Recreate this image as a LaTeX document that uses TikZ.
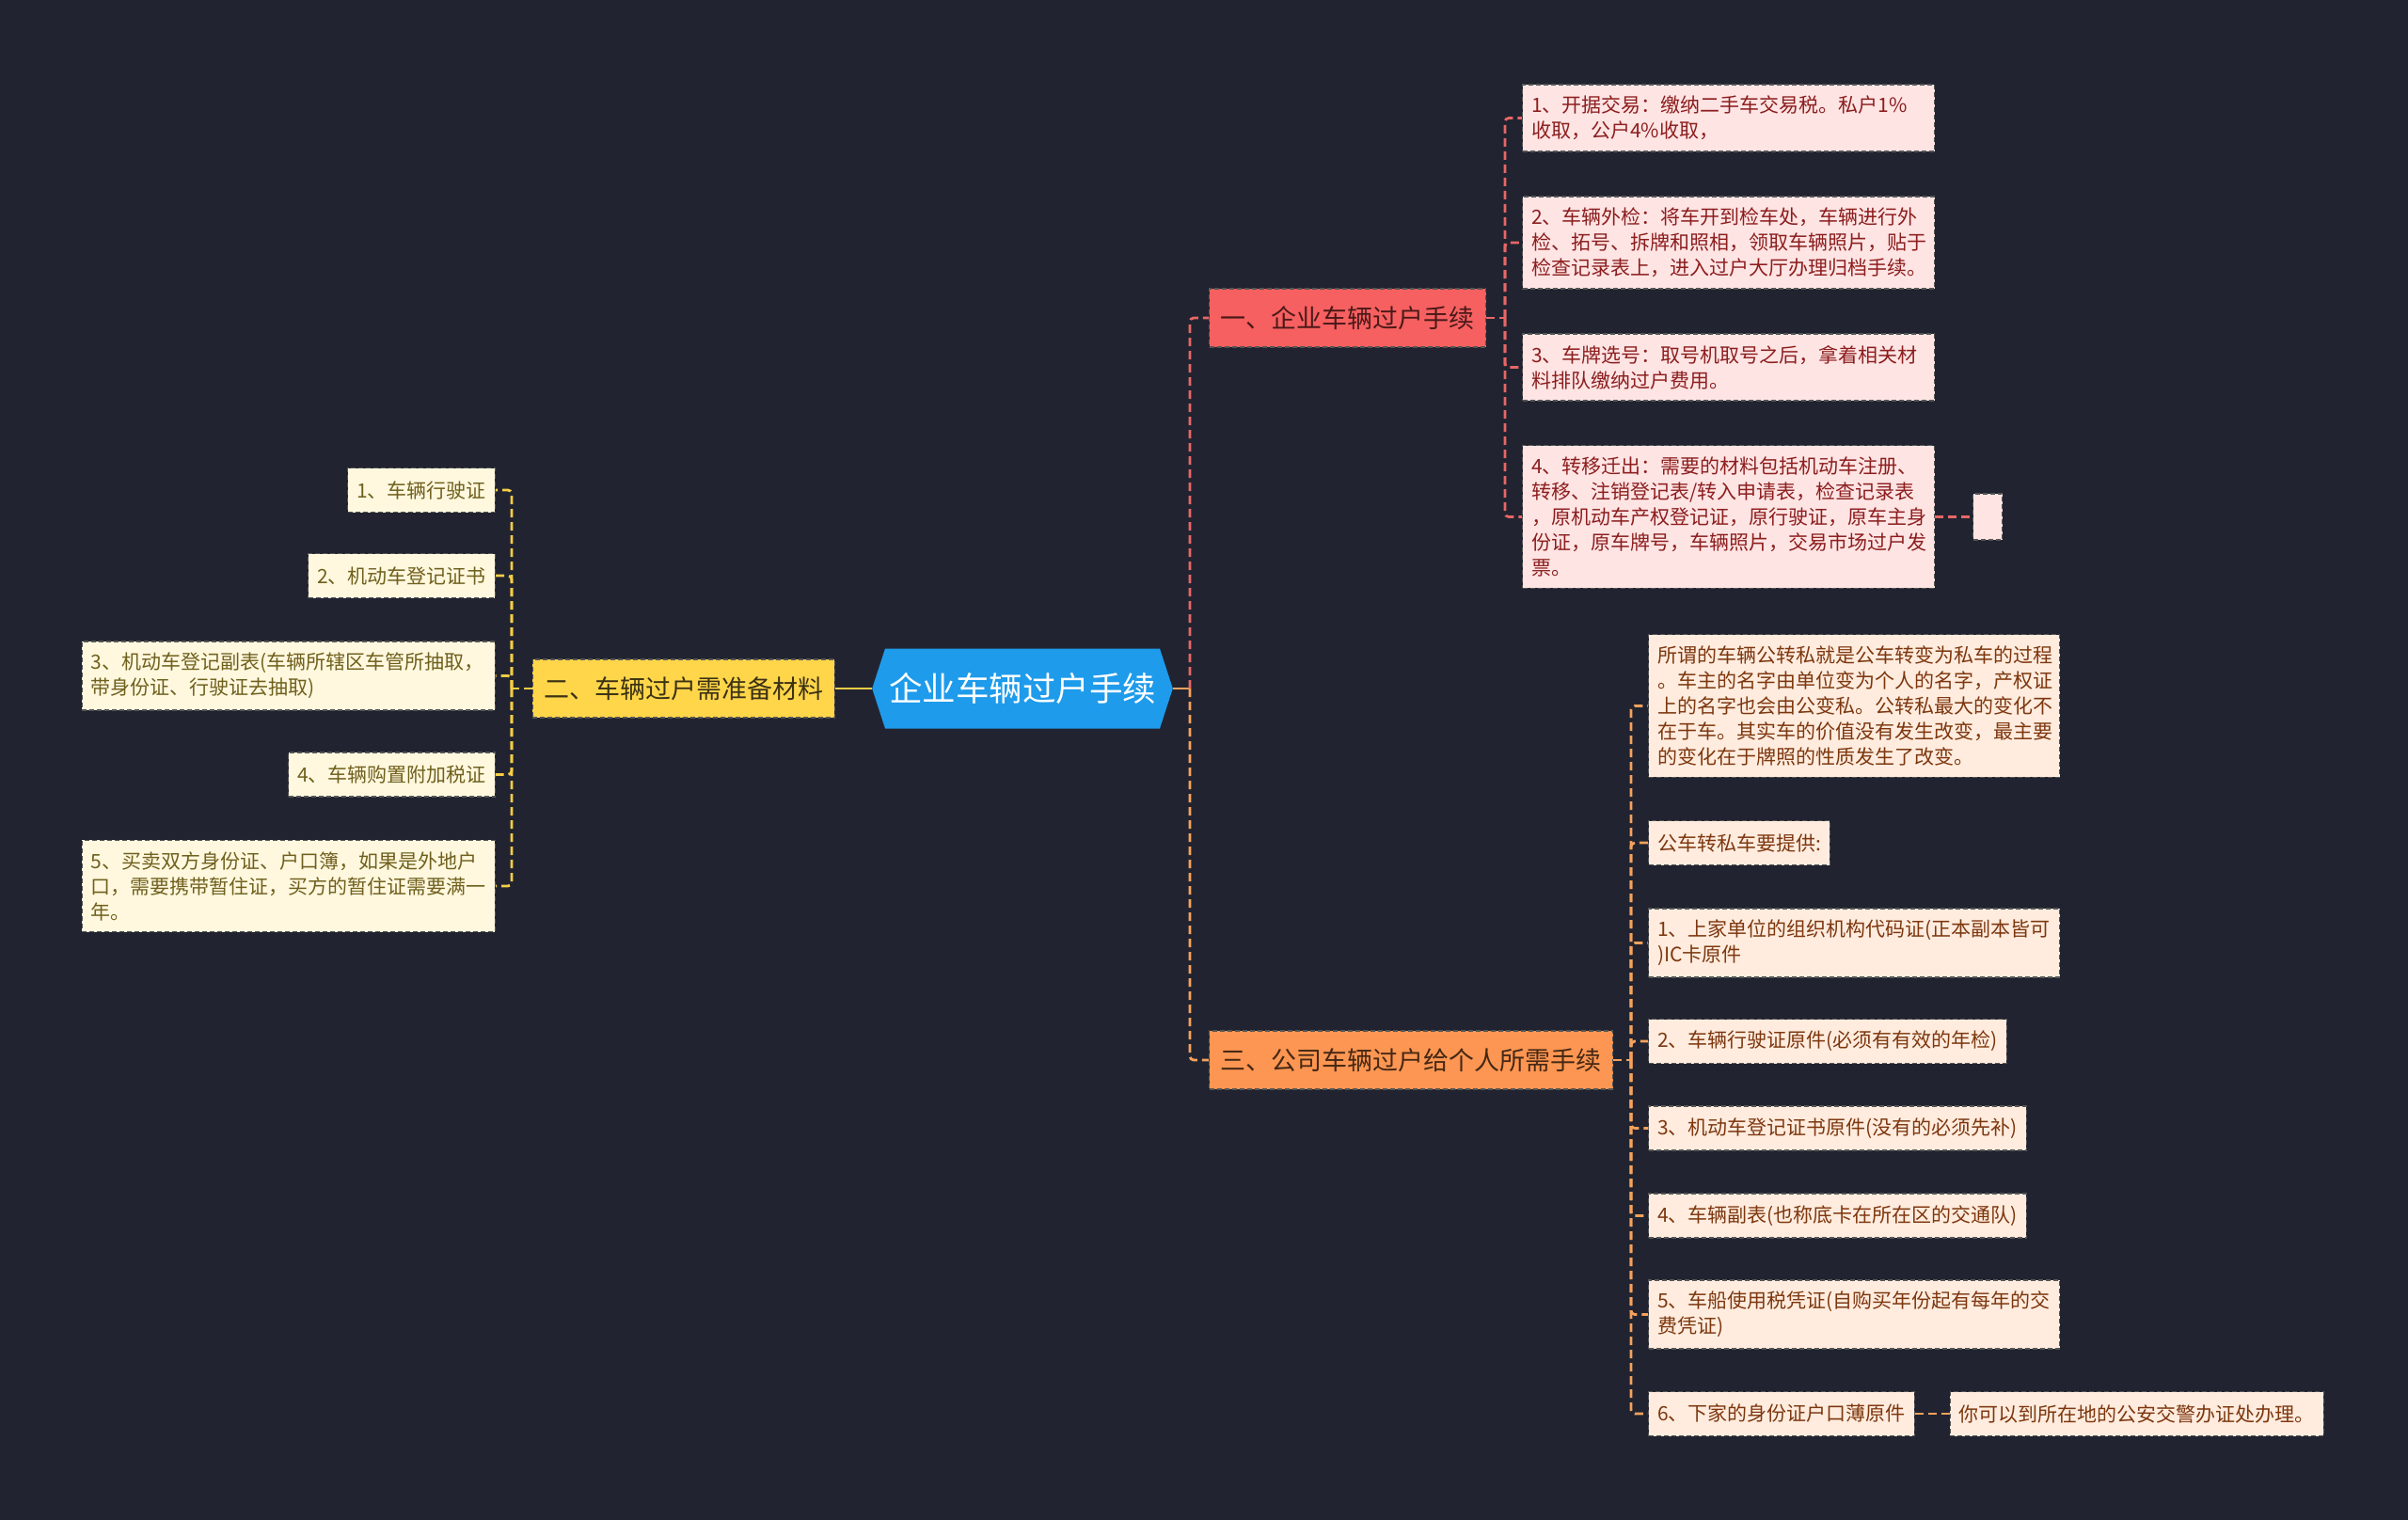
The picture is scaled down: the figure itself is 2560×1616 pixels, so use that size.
\documentclass[tikz,border=0pt]{standalone}
\usepackage{fontspec}
\newfontfamily\cjk{Noto Sans CJK SC}
\usetikzlibrary{positioning,shapes.symbols}
\definecolor{bgnavy}{RGB}{33,36,48}
\definecolor{hexblue}{RGB}{30,155,235}
\definecolor{redfill}{RGB}{246,96,96}
\definecolor{yelfill}{RGB}{255,214,74}
\definecolor{orfill}{RGB}{252,150,82}
\definecolor{redleaf}{RGB}{255,228,228}
\definecolor{yelleaf}{RGB}{255,248,222}
\definecolor{orleaf}{RGB}{255,236,222}
\definecolor{redtext}{RGB}{140,30,30}
\definecolor{yeltext}{RGB}{112,96,30}
\definecolor{ortext}{RGB}{125,55,15}
\definecolor{redwire}{RGB}{232,102,102}
\definecolor{yelwire}{RGB}{245,205,70}
\definecolor{orwire}{RGB}{246,162,92}
\definecolor{edgegray}{RGB}{85,85,85}

\begin{document}
\begin{tikzpicture}[x=1pt, y=-1pt,
  leaf/.style={draw=edgegray, dash pattern=on 5pt off 3pt, line width=1.2pt,
    inner xsep=9.5pt, inner ysep=12pt, minimum height=47pt, align=left,
    font={\cjk\fontsize{21}{27}\selectfont}},
  rleaf/.style={leaf, fill=redleaf, text=redtext},
  yleaf/.style={leaf, fill=yelleaf, text=yeltext},
  oleaf/.style={leaf, fill=orleaf, text=ortext},
  branch/.style={draw=edgegray, dash pattern=on 5pt off 3pt, line width=1.2pt,
    inner xsep=12pt, minimum height=62pt, font={\cjk\fontsize{27}{32}\selectfont}},
  wire/.style={line width=2.8pt, dash pattern=on 9pt off 5pt, rounded corners=4pt},
  redwire/.style={wire, draw=redwire},
  yelwire/.style={wire, draw=yelwire},
  orwire/.style={wire, draw=orwire}]
  \fill[bgnavy] (0,0) rectangle (2560,1616);

  % centre
  \node[signal, signal to=west and east, signal pointer angle=144, fill=hexblue,
    text=white, minimum height=85pt, inner xsep=4pt,
    font={\cjk\fontsize{35.5}{40}\selectfont}] (c) at (1087,732) {企业车辆过户手续};

  % branches
  \node[branch, fill=redfill, text={rgb,255:red,75;green,25;blue,25}, anchor=west] (b1) at (1285,338) {一、企业车辆过户手续};
  \node[branch, fill=yelfill, text={rgb,255:red,60;green,50;blue,20}, left=39pt of c] (b2) {二、车辆过户需准备材料};
  \node[branch, fill=orfill, text={rgb,255:red,70;green,40;blue,20}, anchor=west] (b3) at (1285,1127) {三、公司车辆过户给个人所需手续};

  % branch one
  \node[rleaf, text width=419pt, anchor=west] (r1) at (1618,125.5) {1、开据交易：缴纳二手车交易税。私户1\%\\收取，公户4\%收取，};
  \node[rleaf, text width=419pt, anchor=west] (r2) at (1618,258) {2、车辆外检：将车开到检车处，车辆进行外\\检、拓号、拆牌和照相，领取车辆照片，贴于\\检查记录表上，进入过户大厅办理归档手续。};
  \node[rleaf, text width=419pt, anchor=west] (r3) at (1618,390.5) {3、车牌选号：取号机取号之后，拿着相关材\\料排队缴纳过户费用。};
  \node[rleaf, text width=419pt, anchor=west] (r4) at (1618,549.5) {4、转移迁出：需要的材料包括机动车注册、\\转移、注销登记表/转入申请表，检查记录表\\，原机动车产权登记证，原行驶证，原车主身\\份证，原车牌号，车辆照片，交易市场过户发\\票。};
  \node[rleaf, minimum width=31pt, minimum height=49pt, inner sep=0pt, right=40pt of r4] (r5) {};

  % branch two
  \node[yleaf, anchor=east] (l1) at (527,521) {1、车辆行驶证};
  \node[yleaf, anchor=east] (l2) at (527,612) {2、机动车登记证书};
  \node[yleaf, text width=420pt, anchor=east] (l3) at (527,718.5) {3、机动车登记副表(车辆所辖区车管所抽取，\\带身份证、行驶证去抽取)};
  \node[yleaf, anchor=east] (l4) at (527,823.5) {4、车辆购置附加税证};
  \node[yleaf, text width=420pt, anchor=east] (l5) at (527,942) {5、买卖双方身份证、户口簿，如果是外地户\\口，需要携带暂住证，买方的暂住证需要满一\\年。};

  % branch three
  \node[oleaf, text width=418pt, anchor=west] (o0) at (1752,750.5) {所谓的车辆公转私就是公车转变为私车的过程\\。车主的名字由单位变为个人的名字，产权证\\上的名字也会由公变私。公转私最大的变化不\\在于车。其实车的价值没有发生改变，最主要\\的变化在于牌照的性质发生了改变。};
  \node[oleaf, anchor=west] (o1) at (1752,896) {公车转私车要提供:};
  \node[oleaf, text width=418pt, anchor=west] (o2) at (1752,1002.5) {1、上家单位的组织机构代码证(正本副本皆可\\)IC卡原件};
  \node[oleaf, anchor=west] (o3) at (1752,1107) {2、车辆行驶证原件(必须有有效的年检)};
  \node[oleaf, anchor=west] (o4) at (1752,1199.5) {3、机动车登记证书原件(没有的必须先补)};
  \node[oleaf, anchor=west] (o5) at (1752,1292.5) {4、车辆副表(也称底卡在所在区的交通队)};
  \node[oleaf, text width=418pt, anchor=west] (o6) at (1752,1397.5) {5、车船使用税凭证(自购买年份起有每年的交\\费凭证)};
  \node[oleaf, anchor=west] (o7) at (1752,1503) {6、下家的身份证户口薄原件};
  \node[oleaf, right=37pt of o7] (o8) {你可以到所在地的公安交警办证处办理。};

  % spines
  \coordinate (sc) at (1265,732);
  \coordinate (s1) at (1600,338);
  \coordinate (s2) at (544,732);
  \coordinate (s3) at (1734,1127);

  \draw[yelwire, solid] (c.west) -- (b2.east);
  \draw[orwire, solid] (c.east) -- (sc);
  \draw[redwire] (sc) |- (b1.west);
  \draw[orwire] (sc) |- (b3.west);

  \draw[redwire] (b1.east) -- (s1);
  \foreach \n in {r1,r2,r3,r4}
    \draw[redwire] (s1) |- (\n.west);
  \draw[redwire] (r4) -- (r5);

  \draw[yelwire] (b2.west) -- (s2);
  \foreach \n in {l1,l2,l3,l4,l5}
    \draw[yelwire] (s2) |- (\n.east);

  \draw[orwire] (b3.east) -- (s3);
  \foreach \n in {o0,o1,o2,o3,o4,o5,o6,o7}
    \draw[orwire] (s3) |- (\n.west);
  \draw[orwire] (o7) -- (o8);
\end{tikzpicture}
\end{document}
